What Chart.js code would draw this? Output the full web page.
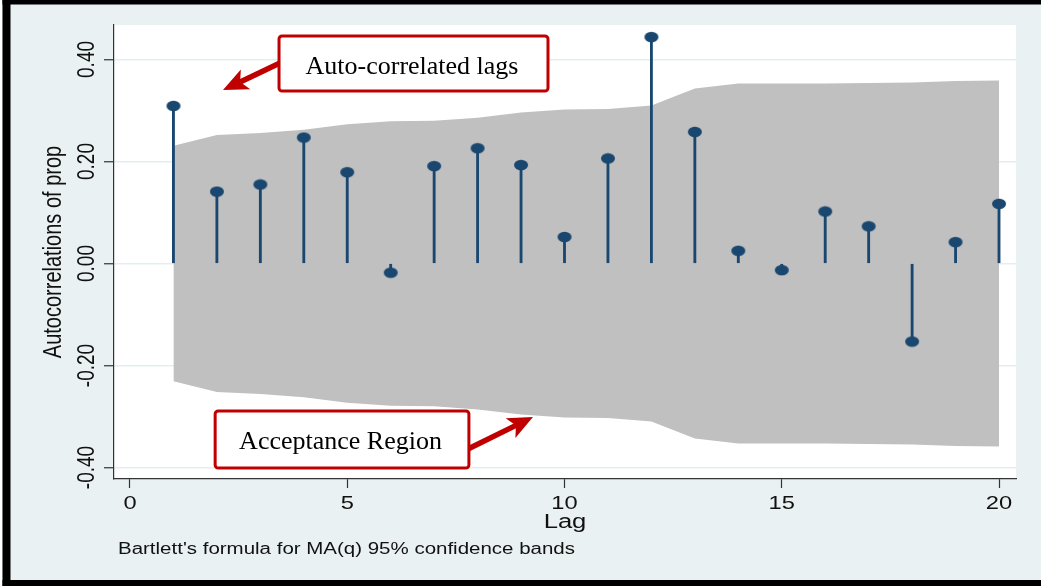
<!DOCTYPE html>
<html><head><meta charset="utf-8">
<script src="https://cdn.jsdelivr.net/npm/chart.js@4/dist/chart.umd.min.js"></script>
<style>html,body{margin:0;padding:0;background:#fff;overflow:hidden}canvas{display:block}</style>
</head><body>
<canvas id="c" width="1041" height="586" style="width:1041px;height:586px"></canvas>
<script>
// ---- data ----
const lags = [1,2,3,4,5,6,7,8,9,10,11,12,13,14,15,16,17,18,19,20];
const acf = [0.309,0.141,0.155,0.247,0.179,-0.018,0.191,0.226,0.193,0.052,0.206,0.444,0.258,0.025,-0.013,0.102,0.073,-0.153,0.042,0.117];
const upperBand = [0.231,0.252,0.256,0.262,0.273,0.279,0.280,0.286,0.296,0.302,0.303,0.310,0.343,0.353,0.353,0.353,0.354,0.355,0.358,0.359];
const lowerBand = [-0.231,-0.252,-0.256,-0.262,-0.273,-0.279,-0.280,-0.286,-0.296,-0.302,-0.303,-0.310,-0.343,-0.353,-0.353,-0.353,-0.354,-0.355,-0.358,-0.359];
const yTickValues = [-0.4,-0.2,0,0.2,0.4];
const yTickLabels = ['-0.40','-0.20','0.00','0.20','0.40'];
const xTickValues = [0,5,10,15,20];
const xTickLabels = ['0','5','10','15','20'];
const yTitle = 'Autocorrelations of prop';
const xTitle = 'Lag';
const noteText = "Bartlett's formula for MA(q) 95% confidence bands";
const annotations = [
  {text:'Auto-correlated lags', box:[3.43,0.446,9.62,0.338], from:[3.50,0.395], to:[2.14,0.340]},
  {text:'Acceptance Region', box:[1.96,-0.289,7.80,-0.401], from:[7.72,-0.366], to:[9.275,-0.301]}
];

// ---- styles ----
const S = 1.28; // horizontal stretch of the original graph text
const NAVY = '#1A476F';
const RED = '#C00000';

const dot = document.createElement('canvas');
dot.width = 16; dot.height = 12;
(function(){const d=dot.getContext('2d');d.fillStyle=NAVY;d.beginPath();d.ellipse(8,6,7,5.3,0,0,Math.PI*2);d.fill();})();

function sText(ctx, txt, x, y, font, align, rot){
  ctx.save();
  ctx.translate(x, y);
  ctx.scale(S, 1);
  if (rot) ctx.rotate(-Math.PI/2);
  ctx.font = font;
  ctx.fillStyle = '#111';
  ctx.textAlign = align;
  ctx.textBaseline = 'alphabetic';
  ctx.fillText(txt, 0, 0);
  ctx.restore();
}

function drawArrow(ctx, x1, y1, x2, y2){
  const ang = Math.atan2(y2-y1, x2-x1), c = Math.cos(ang), s = Math.sin(ang);
  const L = 25, W = 11, N = 6;
  const bx = x2 - L*c, by = y2 - L*s;
  ctx.save();
  ctx.strokeStyle = RED; ctx.fillStyle = RED; ctx.lineWidth = 5.5; ctx.lineCap='butt';
  ctx.beginPath(); ctx.moveTo(x1,y1); ctx.lineTo(bx + N*c, by + N*s); ctx.stroke();
  ctx.beginPath();
  ctx.moveTo(x2, y2);
  ctx.lineTo(bx - W*s, by + W*c);
  ctx.lineTo(bx + N*c, by + N*s);
  ctx.lineTo(bx + W*s, by - W*c);
  ctx.closePath(); ctx.fill();
  ctx.restore();
}

const decor = {
  id: 'decor',
  beforeDraw(chart){
    const ctx = chart.ctx, a = chart.chartArea, w = chart.width, h = chart.height;
    ctx.save();
    ctx.fillStyle = '#fff'; ctx.fillRect(0,0,w,h);
    ctx.fillStyle = '#EAF1F3'; ctx.fillRect(2,0,w-2,h);
    ctx.fillStyle = '#fff'; ctx.fillRect(a.left, a.top, a.right-a.left, a.bottom-a.top);
    ctx.fillStyle = '#000';
    ctx.fillRect(2.5,0,8,h);
    ctx.fillRect(2.5,0,w,4.5);
    ctx.fillRect(2.5,580,w,6);
    ctx.restore();
  },
  afterDraw(chart){
    const ctx = chart.ctx, a = chart.chartArea, xs = chart.scales.x, ys = chart.scales.y;
    yTickValues.forEach((v,i)=> sText(ctx, yTickLabels[i], 93.5, ys.getPixelForValue(v), '19px "Liberation Sans", Arial, sans-serif', 'center', true));
    xTickValues.forEach((v,i)=> sText(ctx, xTickLabels[i], xs.getPixelForValue(v), 509, '18.5px "Liberation Sans", Arial, sans-serif', 'center', false));
    sText(ctx, yTitle, 60.5, (a.top+a.bottom)/2, '20px "Liberation Sans", Arial, sans-serif', 'center', true);
    sText(ctx, xTitle, (a.left+a.right)/2, 527.5, '20px "Liberation Sans", Arial, sans-serif', 'center', false);
    sText(ctx, noteText, 118, 554, '16px "Liberation Sans", Arial, sans-serif', 'left', false);
    annotations.forEach(an=>{
      drawArrow(ctx, xs.getPixelForValue(an.from[0]), ys.getPixelForValue(an.from[1]), xs.getPixelForValue(an.to[0]), ys.getPixelForValue(an.to[1]));
      const x1 = xs.getPixelForValue(an.box[0]), y1 = ys.getPixelForValue(an.box[1]);
      const x2 = xs.getPixelForValue(an.box[2]), y2 = ys.getPixelForValue(an.box[3]);
      ctx.save();
      ctx.beginPath();
      ctx.roundRect(x1, y1, x2-x1, y2-y1, 3);
      ctx.fillStyle = '#fff'; ctx.fill();
      ctx.lineWidth = 3; ctx.strokeStyle = RED; ctx.stroke();
      ctx.font = '26px "Liberation Serif", "Times New Roman", serif';
      ctx.fillStyle = '#000'; ctx.textAlign = 'center'; ctx.textBaseline = 'alphabetic';
      ctx.fillText(an.text, (x1+x2)/2 - 1.5, (y1+y2)/2 + 10);
      ctx.restore();
    });
  }
};

const pts = arr => lags.map((l,i)=>({x:l, y:arr[i]}));

new Chart(document.getElementById('c').getContext('2d'), {
  type: 'bar',
  data: {
    datasets: [
      {type:'line', data: pts(upperBand), borderWidth:0, borderColor:'rgba(0,0,0,0)', pointRadius:0, fill:'+1', backgroundColor:'#C0C0C0', tension:0, order:3},
      {type:'line', data: pts(lowerBand), borderWidth:0, borderColor:'rgba(0,0,0,0)', pointRadius:0, fill:false, tension:0, order:3},
      {type:'bar', data: pts(acf), backgroundColor: NAVY, barThickness: 2.2, order:2},
      {type:'line', data: pts(acf), showLine:false, pointStyle: dot, pointRadius: 6, borderColor: NAVY, backgroundColor: NAVY, order:1}
    ]
  },
  options: {
    responsive: false,
    animation: false,
    devicePixelRatio: 1,
    layout: {padding: {top:25, right:25, left:0, bottom:0}},
    plugins: {legend:{display:false}, tooltip:{enabled:false}},
    scales: {
      x: {
        type:'linear', min:-0.368, max:20.391, offset:false,
        afterBuildTicks: s => { s.ticks = xTickValues.map(v=>({value:v})); },
        afterFit: s => { s.height = 107; },
        ticks: {display:false},
        grid: {offset:false, drawOnChartArea:false, drawTicks:true, tickLength:9, tickColor:'#333', tickWidth:1.2},
        border: {display:true, color:'#333', width:1.2}
      },
      y: {
        type:'linear', min:-0.4225, max:0.4676,
        afterBuildTicks: s => { s.ticks = yTickValues.map(v=>({value:v})); },
        afterFit: s => { s.width = 114; },
        ticks: {display:false},
        grid: {color:'#E4EDEF', lineWidth:1.5, drawTicks:true, tickLength:10, tickColor:'#333', tickWidth:1.2},
        border: {display:true, color:'#333', width:1.2}
      }
    }
  },
  plugins: [decor]
});
</script>
</body></html>
